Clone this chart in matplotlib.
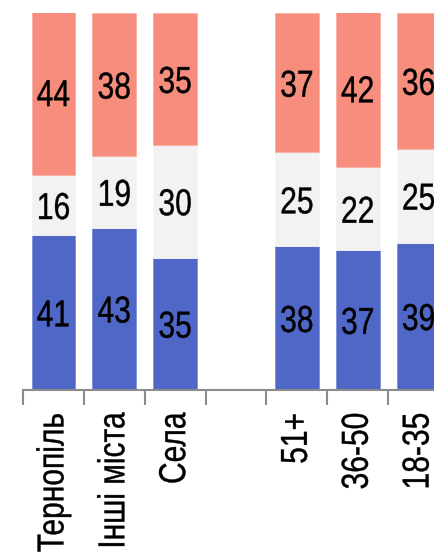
import matplotlib
matplotlib.use("Agg")
import matplotlib.pyplot as plt
from matplotlib import patheffects
from matplotlib.transforms import Affine2D
import numpy as np

categories = ["Тернопіль", "Інші міста", "Села", "", "51+", "36-50", "18-35"]
blue_vals = [41, 43, 35, np.nan, 38, 37, 39]
gray_vals = [16, 19, 30, np.nan, 25, 22, 25]
red_vals = [44, 38, 35, np.nan, 37, 42, 36]

FAM = ["Liberation Sans", "DejaVu Sans"]

blue_c = "#4F68C7"
gray_c = "#F2F2F2"
red_c = "#F78D7D"


class Narrow(patheffects.AbstractPathEffect):
    """Condense text glyphs along the reading direction (Arial Narrow look)."""

    def __init__(self, factor=0.8, anchor="center", stroke=0.3):
        super().__init__()
        self.factor = factor
        self.anchor = anchor
        self.stroke = stroke

    def draw_path(self, renderer, gc, tpath, affine, rgbFace=None):
        ext = tpath.get_extents()
        if self.anchor == "end":
            ax0 = ext.x1
        elif self.anchor == "start":
            ax0 = ext.x0
        else:
            ax0 = (ext.x0 + ext.x1) / 2
        local = Affine2D().translate(-ax0, 0).scale(self.factor, 1).translate(ax0, 0)
        gc0 = renderer.new_gc()
        gc0.copy_properties(gc)
        gc0.set_linewidth(self.stroke)
        if rgbFace is not None:
            gc0.set_foreground(rgbFace)
        renderer.draw_path(gc0, tpath, local + affine, rgbFace)
        gc0.restore()


W, H = 435, 553
fig = plt.figure(figsize=(W / 100, H / 100), dpi=100)
ax = fig.add_axes([23 / W, (H - 389.5) / H, 426 / W, 376.5 / H])

x = np.arange(len(categories))
b = np.array(blue_vals, dtype=float)
g = np.array(gray_vals, dtype=float)
r = np.array(red_vals, dtype=float)

width = 0.72
ax.bar(x, b, width, color=blue_c, edgecolor="#7F90D8", linewidth=0.6)
ax.bar(x, g, width, bottom=b, color=gray_c, edgecolor="#F6F6F6", linewidth=0.6)
ax.bar(x, r, width, bottom=b + g, color=red_c, edgecolor="#FAB0A5", linewidth=0.6)

for xi, bv, gv, rv in zip(x, b, g, r):
    if np.isnan(bv):
        continue
    for base, v in ((0, bv), (bv, gv), (bv + gv, rv)):
        ax.text(xi, base + v / 2, f"{int(v)}", ha="center", va="center_baseline",
                fontsize=27, family=FAM, color="black", clip_on=False,
                path_effects=[Narrow(0.8, "center", 0.3)])

ax.set_xlim(-0.5, len(categories) - 0.5)
ax.set_ylim(0, 100)

for s in ("top", "right", "left"):
    ax.spines[s].set_visible(False)
ax.spines["bottom"].set_color("#8C8C8C")
ax.spines["bottom"].set_linewidth(1.5)
ax.set_yticks([])

ax.set_xticks(x)
ax.set_xticklabels(categories, rotation=90, fontsize=27, family=FAM, va="top", ha="center")
for lab in ax.get_xticklabels():
    lab.set_path_effects([Narrow(0.8, "end", 0.3)])
ax.tick_params(axis="x", which="major", length=0, pad=16.5)
ax.set_xticks(np.arange(-0.5, len(categories)), minor=True)
ax.tick_params(axis="x", which="minor", length=11, width=1.5, color="#8C8C8C")

fig.savefig("out.png", dpi=100)
